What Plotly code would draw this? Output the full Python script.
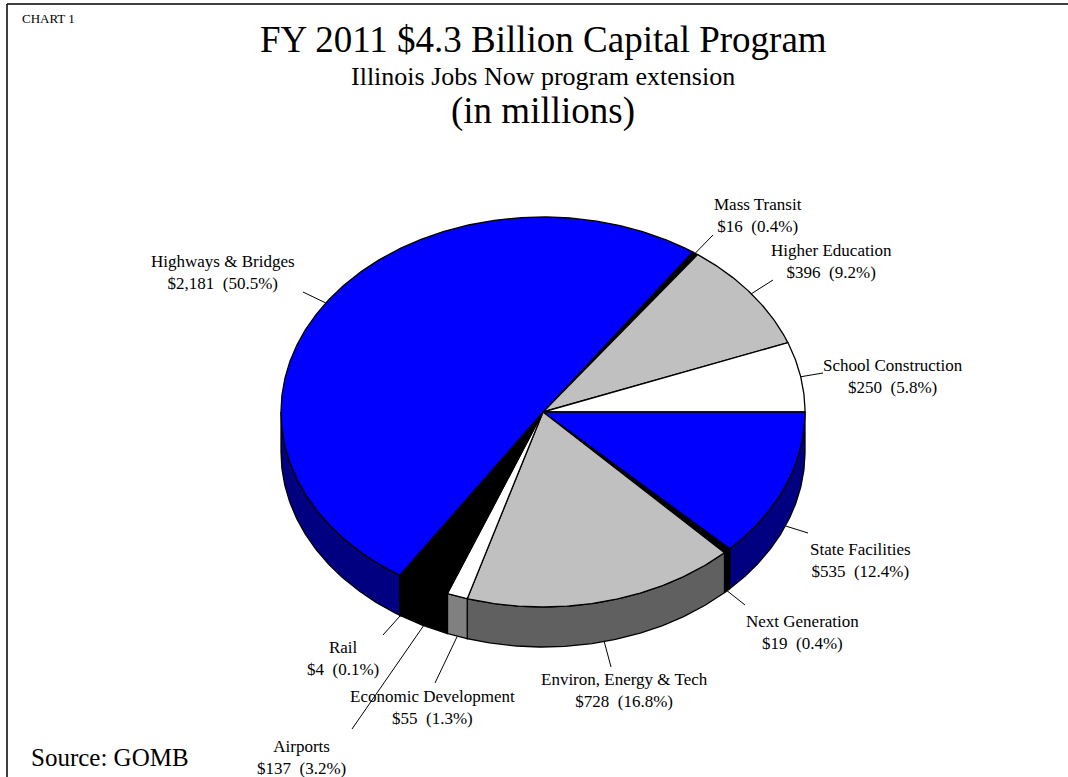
import math
import plotly.graph_objects as go

# Capital program components (in $ millions), clockwise from "Mass Transit"
categories = [
    "Mass Transit", "Higher Education", "School Construction", "State Facilities",
    "Next Generation", "Environ, Energy & Tech", "Economic Development",
    "Airports", "Rail", "Highways & Bridges",
]
amounts = [16, 396, 250, 535, 19, 728, 55, 137, 4, 2181]

top_colors = ["#000000", "#C0C0C0", "#FFFFFF", "#0000FF", "#000000",
              "#C0C0C0", "#FFFFFF", "#000000", "#C0C0C0", "#0000FF"]
side_colors = ["#000000", "#606060", "#808080", "#000080", "#000000",
               "#606060", "#808080", "#000000", "#606060", "#000080"]

title_text = "FY 2011 $4.3 Billion Capital Program"
subtitle_text = "Illinois Jobs Now program extension"
units_text = "(in millions)"

# ---- layout geometry (pixel space) ----
W, H = 1068, 777
CX, CY = 543, 412          # centre of the pie's top face
RX, RY = 262, 195          # ellipse radii of the tilted top face
DEPTH = 40                 # thickness of the pie wall
FONT = "Liberation Serif, Times New Roman, serif"
LABEL_SIZE = 17

# label block centres and the label-side end of each leader line
label_pos = {
    "Mass Transit": (758, 215),
    "Higher Education": (831, 261),
    "School Construction": (893, 376),
    "State Facilities": (860, 560),
    "Next Generation": (802, 632),
    "Environ, Energy & Tech": (624, 690),
    "Economic Development": (432, 707),
    "Airports": (301, 757),
    "Rail": (343, 658),
    "Highways & Bridges": (223, 272),
}
leader_end = {
    "Mass Transit": (713, 235),
    "Higher Education": (773, 280),
    "School Construction": (823, 373),
    "State Facilities": (808, 533),
    "Next Generation": (745, 605),
    "Environ, Energy & Tech": (611, 667),
    "Economic Development": (435, 683),
    "Airports": (352, 729),
    "Rail": (383, 635),
    "Highways & Bridges": (303, 292),
}

total = sum(amounts)
# rotate so that "State Facilities" begins at 3 o'clock
start_angle = 90 - 360 * sum(amounts[:3]) / total


def point(a, dy=0.0):
    """Screen point on the rim for angle a (degrees clockwise from 12 o'clock)."""
    t = math.radians(90 - a)
    return CX + RX * math.cos(t), CY - RY * math.sin(t) + dy


def arc(a0, a1, dy=0.0, step=0.5):
    n = max(2, int(abs(a1 - a0) / step) + 1)
    return [point(a0 + (a1 - a0) * i / (n - 1), dy) for i in range(n)]


bounds = []
acc = start_angle
for v in amounts:
    a0 = acc
    acc += 360 * v / total
    bounds.append((a0, acc))

fig = go.Figure()

# outer wall (only the front half, 90..270 deg, is visible)
for (a0, a1), col in zip(bounds, side_colors):
    b0, b1 = max(a0, 90), min(a1, 270)
    if b1 <= b0:
        continue
    top = arc(b0, b1)
    bot = arc(b1, b0, DEPTH)
    pts = top + bot + [top[0]]
    fig.add_trace(go.Scatter(
        x=[p[0] for p in pts], y=[p[1] for p in pts],
        mode="lines", fill="toself", fillcolor=col,
        line=dict(color="black", width=1.3), hoverinfo="skip", showlegend=False,
    ))

# top faces
for (a0, a1), col in zip(bounds, top_colors):
    pts = [(CX, CY)] + arc(a0, a1) + [(CX, CY)]
    fig.add_trace(go.Scatter(
        x=[p[0] for p in pts], y=[p[1] for p in pts],
        mode="lines", fill="toself", fillcolor=col,
        line=dict(color="black", width=1.3), hoverinfo="skip", showlegend=False,
    ))

annotations = []
# leader lines and data labels
for name, v, (a0, a1) in zip(categories, amounts, bounds):
    mid = (a0 + a1) / 2
    front = 90 < (mid % 360) < 270
    px, py = point(mid, DEPTH if front else 0)
    lx, ly = leader_end[name]
    fig.add_trace(go.Scatter(
        x=[lx, px], y=[ly, py], mode="lines",
        line=dict(color="black", width=1), hoverinfo="skip", showlegend=False,
    ))
    pct = 100 * v / total
    tx, ty = label_pos[name]
    annotations.append(dict(
        x=tx, y=ty, xref="x", yref="y", showarrow=False,
        text=f"{name}<br>${v:,}\u00a0 ({pct:.1f}%)",
        font=dict(family=FONT, size=LABEL_SIZE, color="black"),
        align="center", xanchor="center", yanchor="middle",
    ))

# titles and notes
notes = [
    dict(x=543, y=39, text=title_text, font=dict(family=FONT, size=37, color="black")),
    dict(x=543, y=76, text=subtitle_text, font=dict(family=FONT, size=26, color="black")),
    dict(x=543, y=111, text=units_text, font=dict(family=FONT, size=37, color="black")),
    dict(x=20, y=18, text="CHART 1", xanchor="left", font=dict(family=FONT, size=13, color="black")),
    dict(x=29, y=757, text="Source: GOMB", xanchor="left", font=dict(family=FONT, size=25, color="black")),
]
for a in notes:
    a.setdefault("xref", "x")
    a.setdefault("yref", "y")
    a.setdefault("showarrow", False)
    a.setdefault("xanchor", "center")
    a.setdefault("yanchor", "middle")
annotations += notes

# chart frame
shapes = [
    dict(type="line", xref="x", yref="y", x0=7, y0=4, x1=W, y1=4, line=dict(color="black", width=1.5)),
    dict(type="line", xref="x", yref="y", x0=7, y0=4, x1=7, y1=H, line=dict(color="black", width=1.5)),
]

fig.update_layout(
    width=W, height=H,
    margin=dict(l=0, r=0, t=0, b=0),
    paper_bgcolor="white", plot_bgcolor="white",
    xaxis=dict(range=[0, W], visible=False, fixedrange=True),
    yaxis=dict(range=[H, 0], visible=False, fixedrange=True),
    annotations=annotations, shapes=shapes,
    showlegend=False,
)

fig.write_html("out.html")
